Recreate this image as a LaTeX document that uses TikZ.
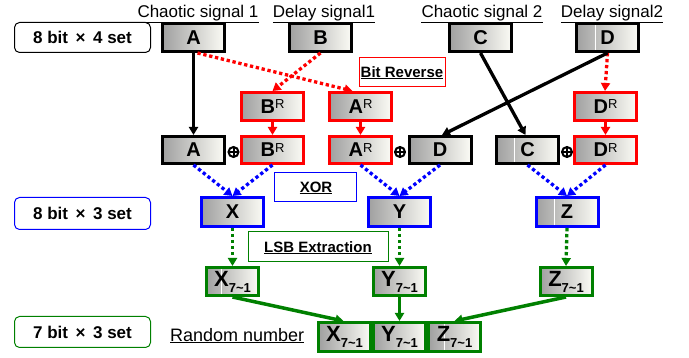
\documentclass[tikz,border=0pt]{standalone}
\usepackage{fontspec}
\setmainfont{Liberation Sans}
\usetikzlibrary{arrows.meta,calc}
\definecolor{gfill}{RGB}{160,160,160}
\definecolor{wfill}{RGB}{251,251,245}
\definecolor{myred}{RGB}{255,0,0}
\definecolor{myblue}{RGB}{0,0,255}
\definecolor{mygreen}{RGB}{0,128,0}
\newcommand\supR[1]{#1\raisebox{4.5pt}{\fontsize{13}{13}\selectfont\mdseries R}}
\newcommand\subS[1]{{\fontsize{22}{22}\selectfont #1}\raisebox{-6pt}{\fontsize{13}{13}\selectfont 7\textasciitilde1}}
\begin{document}
\begin{tikzpicture}[x=1pt,y=-1pt,
  box/.style={draw, line width=3pt, left color=gfill, right color=wfill,
    minimum width=62pt, minimum height=28pt, inner sep=0pt,
    font=\bfseries\fontsize{20}{20}\selectfont},
  redbox/.style={box, draw=myred},
  bluebox/.style={box, draw=myblue, minimum height=29pt},
  greenbox/.style={box, draw=mygreen, minimum width=52pt},
  seam/.style={path picture={\draw[white,line width=1pt]
      ([xshift=#1]path picture bounding box.south west) --
      ([xshift=#1]path picture bounding box.north west);}},
  lbl/.style={draw, rounded corners=5pt, line width=1pt, minimum width=136pt,
    minimum height=30pt, inner sep=0pt, font=\bfseries\fontsize{17}{17}\selectfont},
  sig/.style={inner sep=0pt, anchor=base, font=\fontsize{17}{17}\selectfont},
  note/.style={draw, line width=0.8pt, inner sep=0pt},
  notetxt/.style={inner sep=0pt, anchor=base, font=\bfseries\fontsize{15}{15}\selectfont},
  ul/.style={line width=1.4pt},
  oplus/.style={circle, draw, line width=2pt, minimum size=10pt, inner sep=0pt,
    path picture={\draw[line width=2pt]
      (path picture bounding box.north) -- (path picture bounding box.south)
      (path picture bounding box.west) -- (path picture bounding box.east);}},
  tip/.style={-{Triangle[length=8pt,width=9pt]}},
  blk/.style={tip, line width=3.3pt, black},
  rdot/.style={tip, line width=3.3pt, myred, dash pattern=on 3.3pt off 2.7pt},
  rsol/.style={tip, line width=2.6pt, myred},
  bdot/.style={tip, line width=3.3pt, myblue, dash pattern=on 3.3pt off 2.7pt},
  gdot/.style={tip, line width=3.3pt, mygreen, dash pattern=on 3.3pt off 2.7pt},
  gsol/.style={tip, line width=3.5pt, mygreen}]
\useasboundingbox (0,0) rectangle (689,358);

% side labels
\node[lbl] (L1) at (82.5,37.5) {8 bit \,×\, 4 set};
\node[lbl, draw=myblue, minimum height=32pt] (L2) at (82.5,213.5) {8 bit \,×\, 3 set};
\node[lbl, draw=mygreen, minimum height=31pt] (L3) at (82.5,332) {7 bit \,×\, 3 set};

% signal titles
\node[sig] (s1) at (198,18) {Chaotic signal 1};
\node[sig] (s2) at (324,18) {Delay signal1};
\node[sig] (s3) at (482,18) {Chaotic signal 2};
\node[sig] (s4) at (612,18) {Delay signal2};
\foreach \s in {s1,s2,s3,s4}
  \draw[ul] ([yshift=-0.5pt]\s.south west) -- ([yshift=-0.5pt]\s.south east);

% annotation boxes
\node[note, draw=myred, minimum width=86pt, minimum height=29pt] (brbox) at (402,71.5) {};
\node[notetxt] (brt) at (402,78) {Bit Reverse};
\draw[ul,line width=1.2pt] (brt.south west) -- (brt.south east);
\node[note, draw=myblue, minimum width=82pt, minimum height=29pt] (xorbox) at (315,186.5) {};
\node[notetxt] (xort) at (316,193) {XOR};
\draw[ul,line width=1.2pt] (xort.south west) -- (xort.south east);
\node[note, draw=mygreen, minimum width=140pt, minimum height=30pt] (lsbbox) at (318,246) {};
\node[notetxt] (lsbt) at (318,253) {LSB Extraction};
\draw[ul,line width=1.2pt] (lsbt.south west) -- (lsbt.south east);

% top row
\node[box] (A) at (193.5,37.5) {A};
\node[box] (B) at (320.5,37.5) {B};
\node[box] (C) at (480.5,37.5) {C};
\node[box, seam=19pt] (D) at (607.5,37.5) {D};

% bit reversed
\node[redbox] (BR1) at (272.5,106.5) {\supR{B}};
\node[redbox] (AR1) at (360.5,106.5) {\supR{A}};
\node[redbox] (DR1) at (605.5,106.5) {\supR{D}};

% third row
\node[box, minimum height=27pt] (A2) at (193.5,150) {A};
\node[redbox, minimum height=27pt] (BR2) at (272.5,150) {\supR{B}};
\node[redbox, minimum height=27pt] (AR2) at (360.5,150) {\supR{A}};
\node[box, minimum height=27pt] (D2) at (440,150) {D};
\node[box, minimum height=27pt, seam=18pt] (C2) at (527.5,150) {C};
\node[redbox, minimum height=27pt] (DR2) at (605.5,150) {\supR{D}};
\node[oplus] (o1) at (233.5,152) {};
\node[oplus] (o2) at (400,152) {};
\node[oplus] (o3) at (567,152) {};

% XOR results
\node[bluebox] (X) at (232.5,212) {X};
\node[bluebox] (Y) at (399.5,212) {Y};
\node[bluebox, seam=18pt] (Z) at (567,212) {Z};

% LSB extraction
\node[greenbox, seam=15pt] (X1) at (232.5,281.5) {\subS{X}};
\node[greenbox] (Y1) at (399.5,281.5) {\subS{Y}};
\node[greenbox] (Z1) at (566,281.5) {\subS{Z}};

% random number
\node[greenbox, minimum height=29pt] (RX) at (344.5,337) {\subS{X}};
\node[greenbox, minimum height=29pt] (RY) at (399.5,337) {\subS{Y}};
\node[greenbox, minimum height=29pt, seam=16pt] (RZ) at (454.5,337) {\subS{Z}};
\node[inner sep=0pt, anchor=base west, font=\fontsize{18}{18}\selectfont] (rn) at (170,342) {Random number};
\draw[ul] (rn.south west) -- (rn.south east);

% connectors
\draw[blk] (A.south) -- (A2.north);
\draw[rdot] ([xshift=4pt]A.south) -- ([xshift=-8pt]AR1.north);
\draw[rdot] (B.south) -- (BR1.north);
\draw[rdot] (D.south) -- ([xshift=-0.5pt]DR1.north);
\draw[blk] (C.south) -- ([xshift=-2pt]C2.north);
\draw[blk] (D.south) -- ([xshift=2pt]D2.north);
\draw[rsol] (BR1.south) -- (BR2.north);
\draw[rsol] (AR1.south) -- (AR2.north);
\draw[rsol] (DR1.south) -- (DR2.north);

\draw[bdot] (A2.south) -- (X.north);
\draw[bdot] (BR2.south) -- (X.north);
\draw[bdot] (AR2.south) -- (Y.north);
\draw[bdot] (D2.south) -- (Y.north);
\draw[bdot] (C2.south) -- (Z.north);
\draw[bdot] (DR2.south) -- (Z.north);

\draw[gdot] (X.south) -- (X1.north);
\draw[gdot] (Y.south) -- (Y1.north);
\draw[gdot] (Z.south) -- (Z1.north);

\draw[gsol] (X1.south) -- ([xshift=-1pt]RX.north);
\draw[gsol] (Y1.south) -- (RY.north);
\draw[gsol] (Z1.south) -- (RZ.north);
\end{tikzpicture}
\end{document}
